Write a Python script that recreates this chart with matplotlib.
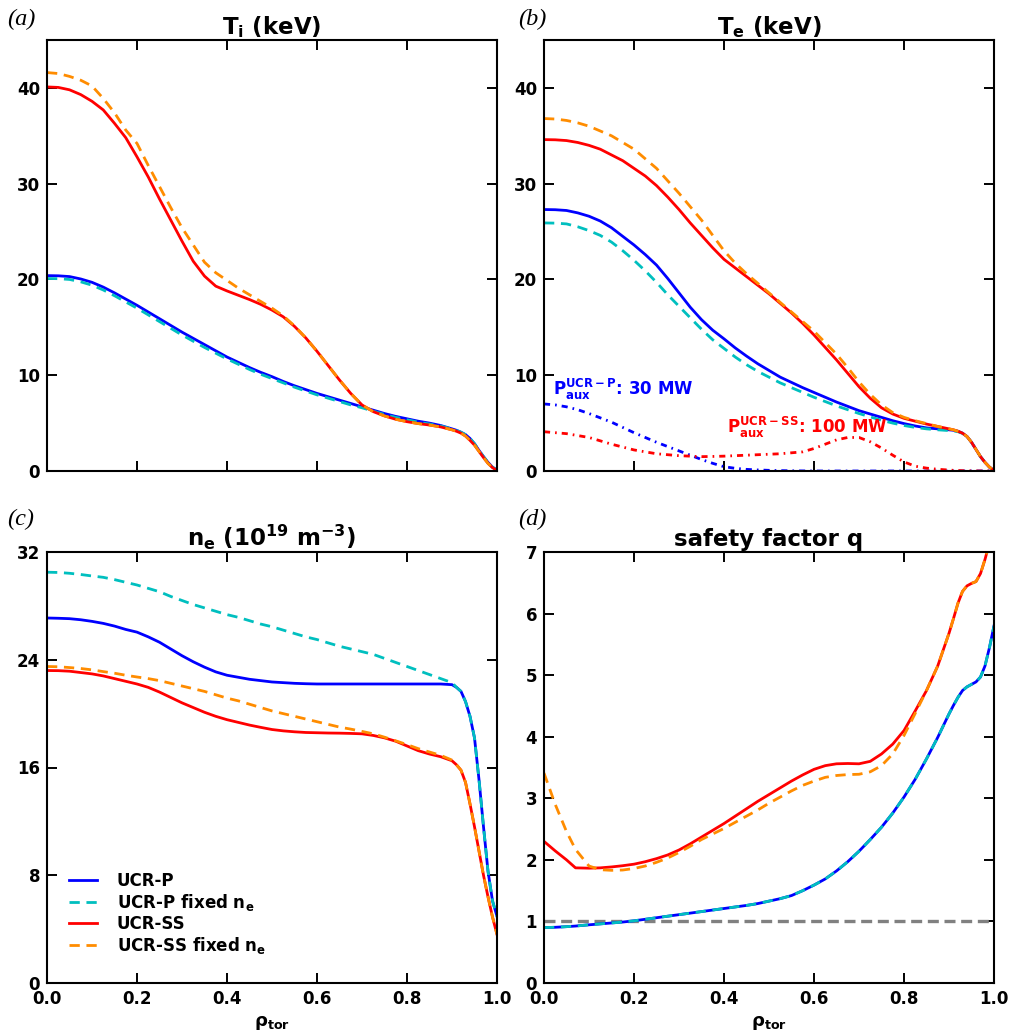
import numpy as np
import matplotlib
matplotlib.use("Agg")
import matplotlib.pyplot as plt

# ---------------- data ----------------
rho = [0, .025, .05, .075, .1, .125, .15, .175, .2, .225, .25, .275, .3, .325, .35, .375,
       .4, .425, .45, .475, .5, .525, .55, .575, .6, .625, .65, .675, .7, .725, .75, .775,
       .8, .825, .85, .875, .9, .91, .92, .93, .94, .95, .96, .97, .98, .99, 1.0]

Ti_P = [20.4, 20.38, 20.3, 20.05, 19.7, 19.2, 18.6, 17.95, 17.3, 16.6, 15.9, 15.2, 14.5, 13.85,
        13.2, 12.55, 11.9, 11.35, 10.8, 10.3, 9.85, 9.35, 8.9, 8.5, 8.1, 7.75, 7.4, 7.05, 6.7,
        6.35, 6.0, 5.7, 5.45, 5.2, 5.0, 4.75, 4.4, 4.25, 4.05, 3.8, 3.4, 2.85, 2.15, 1.5, 0.9,
        0.4, 0.1]
Ti_Pf = [20.1, 20.08, 20.0, 19.75, 19.4, 18.9, 18.3, 17.65, 17.0, 16.3, 15.6, 14.9, 14.2, 13.55,
         12.9, 12.3, 11.7, 11.15, 10.6, 10.1, 9.65, 9.2, 8.75, 8.35, 7.95, 7.6, 7.25, 6.9, 6.6,
         6.25, 5.9, 5.6, 5.35, 5.1, 4.9, 4.7, 4.38, 4.23, 4.05, 3.8, 3.4, 2.85, 2.15, 1.5, 0.9,
         0.4, 0.1]
Ti_SS = [40.1, 40.05, 39.8, 39.3, 38.6, 37.7, 36.3, 34.8, 32.8, 30.7, 28.4, 26.2, 24.0, 21.9,
         20.35, 19.3, 18.8, 18.35, 17.9, 17.4, 16.8, 16.1, 15.1, 13.9, 12.5, 11.0, 9.5, 8.1, 6.9,
         6.2, 5.75, 5.4, 5.15, 4.95, 4.8, 4.6, 4.3, 4.15, 3.95, 3.65, 3.2, 2.7, 2.05, 1.4, 0.8,
         0.35, 0.05]
Ti_SSf = [41.6, 41.5, 41.2, 40.8, 40.2, 38.9, 37.4, 35.6, 34.2, 31.9, 29.7, 27.5, 25.4, 23.6,
          21.8, 20.7, 19.9, 19.1, 18.4, 17.7, 17.0, 16.2, 15.15, 13.9, 12.5, 11.0, 9.5, 8.1, 6.9,
          6.2, 5.75, 5.4, 5.15, 4.95, 4.8, 4.6, 4.3, 4.15, 3.95, 3.65, 3.2, 2.7, 2.05, 1.4, 0.8,
          0.35, 0.05]

Te_P = [27.3, 27.28, 27.2, 26.95, 26.6, 26.1, 25.4, 24.5, 23.6, 22.6, 21.5, 20.1, 18.6, 17.1,
        15.8, 14.7, 13.8, 12.85, 12.0, 11.2, 10.5, 9.8, 9.25, 8.7, 8.2, 7.7, 7.2, 6.75, 6.3,
        5.95, 5.6, 5.25, 4.95, 4.7, 4.5, 4.4, 4.3, 4.25, 4.15, 3.95, 3.6, 3.0, 2.25, 1.5, 0.9,
        0.4, 0.05]
Te_Pf = [25.9, 25.88, 25.8, 25.5, 25.1, 24.6, 23.9, 23.0, 22.0, 20.9, 19.7, 18.4, 17.2, 16.0,
         14.8, 13.7, 12.8, 11.9, 11.1, 10.4, 9.8, 9.2, 8.7, 8.2, 7.7, 7.25, 6.8, 6.4, 6.0, 5.65,
         5.3, 5.0, 4.75, 4.55, 4.4, 4.3, 4.22, 4.18, 4.1, 3.93, 3.6, 3.0, 2.25, 1.5, 0.9, 0.4,
         0.05]
Te_SS = [34.6, 34.58, 34.5, 34.3, 34.0, 33.6, 33.0, 32.4, 31.6, 30.8, 29.8, 28.6, 27.3, 25.9,
         24.6, 23.3, 22.1, 21.2, 20.3, 19.4, 18.5, 17.5, 16.5, 15.4, 14.2, 12.9, 11.6, 10.2, 8.8,
         7.6, 6.6, 5.95, 5.5, 5.2, 4.9, 4.65, 4.4, 4.3, 4.15, 3.95, 3.6, 3.0, 2.25, 1.5, 0.9,
         0.4, 0.05]
Te_SSf = [36.8, 36.75, 36.6, 36.35, 36.0, 35.5, 35.0, 34.3, 33.6, 32.6, 31.6, 30.3, 29.0, 27.6,
          26.2, 24.6, 23.0, 21.7, 20.6, 19.6, 18.6, 17.6, 16.6, 15.6, 14.6, 13.4, 12.2, 10.8,
          9.3, 8.0, 6.9, 6.1, 5.6, 5.25, 4.95, 4.65, 4.4, 4.3, 4.15, 3.95, 3.6, 3.0, 2.25, 1.5,
          0.9, 0.4, 0.05]
Paux_P = [7.0, 6.9, 6.7, 6.4, 6.0, 5.55, 5.1, 4.55, 4.0, 3.5, 3.0, 2.55, 2.1, 1.65, 1.2, 0.8,
          0.45, 0.28, 0.17, 0.11, 0.07, 0.04, 0.02, 0.01, 0, 0, 0, 0, 0, 0, 0, 0,
          0, 0, 0, 0, 0, 0, 0, 0, 0, 0, 0, 0, 0, 0, 0]
Paux_SS = [4.1, 4.0, 3.9, 3.7, 3.5, 3.15, 2.8, 2.5, 2.2, 2.0, 1.8, 1.7, 1.6, 1.55, 1.5, 1.52,
           1.55, 1.6, 1.65, 1.7, 1.75, 1.8, 1.9, 2.0, 2.35, 2.8, 3.25, 3.5, 3.5, 3.05, 2.4, 1.65,
           0.95, 0.5, 0.3, 0.18, 0.1, 0.07, 0.05, 0.03, 0.02, 0.01, 0, 0, 0, 0, 0]

ne_P = [27.1, 27.08, 27.05, 26.97, 26.85, 26.7, 26.5, 26.25, 26.05, 25.7, 25.3, 24.8, 24.3,
        23.85, 23.45, 23.1, 22.85, 22.7, 22.55, 22.45, 22.35, 22.3, 22.25, 22.22, 22.2, 22.2,
        22.2, 22.2, 22.2, 22.2, 22.2, 22.2, 22.2, 22.2, 22.2, 22.2, 22.15, 21.95, 21.65, 20.9,
        19.8, 18.2, 15.1, 11.6, 8.3, 6.1, 4.95]
ne_Pf = [30.5, 30.48, 30.42, 30.33, 30.22, 30.12, 29.95, 29.75, 29.55, 29.3, 29.05, 28.7, 28.4,
         28.1, 27.85, 27.6, 27.35, 27.15, 26.9, 26.65, 26.45, 26.2, 25.95, 25.7, 25.5, 25.25,
         25.0, 24.8, 24.6, 24.4, 24.1, 23.8, 23.5, 23.2, 22.9, 22.6, 22.3, 21.95, 21.65, 20.9,
         19.8, 18.2, 15.1, 11.6, 8.3, 6.1, 4.95]
ne_SS = [23.2, 23.19, 23.15, 23.05, 22.95, 22.8, 22.6, 22.4, 22.2, 21.95, 21.6, 21.2, 20.8,
         20.45, 20.1, 19.8, 19.55, 19.35, 19.15, 18.98, 18.82, 18.72, 18.65, 18.6, 18.58, 18.56,
         18.55, 18.53, 18.5, 18.38, 18.2, 17.95, 17.6, 17.25, 17.0, 16.8, 16.5, 16.2, 15.8, 14.9,
         13.3, 11.6, 9.8, 8.0, 6.4, 4.9, 3.6]
ne_SSf = [23.5, 23.48, 23.42, 23.35, 23.25, 23.12, 23.0, 22.85, 22.72, 22.6, 22.45, 22.25, 22.05,
          21.85, 21.65, 21.4, 21.15, 20.95, 20.7, 20.45, 20.2, 20.0, 19.8, 19.6, 19.4, 19.2, 19.0,
          18.85, 18.68, 18.5, 18.25, 17.98, 17.7, 17.4, 17.15, 16.9, 16.55, 16.2, 15.8, 14.9,
          13.3, 11.6, 9.8, 8.0, 6.4, 4.9, 3.6]

rho_q = [0, .025, .05, .07, .1, .125, .15, .175, .2, .225, .25, .275, .3, .325, .35, .375,
         .4, .425, .45, .475, .5, .525, .55, .575, .6, .625, .65, .675, .7, .725, .75, .775,
         .8, .825, .85, .875, .9, .91, .92, .93, .94, .95, .96, .97, .98, .99, 1.0]
q_P = [0.90, 0.905, 0.915, 0.925, 0.945, 0.96, 0.975, 0.99, 1.01, 1.035, 1.06, 1.085, 1.11,
       1.135, 1.16, 1.185, 1.21, 1.235, 1.26, 1.29, 1.33, 1.37, 1.42, 1.5, 1.59, 1.69, 1.82,
       1.97, 2.14, 2.33, 2.53, 2.76, 3.02, 3.31, 3.64, 3.99, 4.37, 4.51, 4.64, 4.75, 4.81, 4.85,
       4.89, 4.97, 5.15, 5.45, 5.8]
q_Pf = list(q_P)
q_SS = [2.30, 2.145, 2.0, 1.87, 1.865, 1.87, 1.885, 1.905, 1.93, 1.97, 2.02, 2.08, 2.16, 2.26,
        2.37, 2.48, 2.59, 2.71, 2.83, 2.95, 3.06, 3.17, 3.28, 3.38, 3.47, 3.53, 3.56, 3.565,
        3.56, 3.6, 3.72, 3.88, 4.1, 4.42, 4.75, 5.15, 5.68, 5.92, 6.17, 6.36, 6.45, 6.49, 6.52,
        6.65, 6.88, 7.15, 7.6]
q_SSf = [3.41, 2.9, 2.46, 2.17, 1.90, 1.84, 1.83, 1.835, 1.86, 1.90, 1.96, 2.03, 2.12, 2.22,
         2.33, 2.42, 2.51, 2.61, 2.71, 2.81, 2.92, 3.02, 3.12, 3.21, 3.28, 3.34, 3.37, 3.385,
         3.39, 3.43, 3.53, 3.72, 4.02, 4.38, 4.75, 5.15, 5.68, 5.92, 6.17, 6.36, 6.45, 6.49,
         6.52, 6.65, 6.88, 7.15, 7.6]
q_ref = 1.0

labels = ["UCR-P", "UCR-P fixed n$_e$", "UCR-SS", "UCR-SS fixed n$_e$"]
titles = ["T$_i$ (keV)", "T$_e$ (keV)", "n$_e$ (10$^{19}$ m$^{-3}$)", "safety factor q"]
panel_tags = ["(a)", "(b)", "(c)", "(d)"]
xticks = [0.0, 0.2, 0.4, 0.6, 0.8, 1.0]
ylims = [(0, 45), (0, 45), (0, 32), (0, 7)]
yticks = [[0, 10, 20, 30, 40], [0, 10, 20, 30, 40], [0, 8, 16, 24, 32], [0, 1, 2, 3, 4, 5, 6, 7]]

# ---------------- style ----------------
plt.rcParams['font.family'] = ['DejaVu Sans']
plt.rcParams['font.weight'] = 'bold'
plt.rcParams['mathtext.default'] = 'bf'
plt.rcParams['axes.linewidth'] = 1.5

fig = plt.figure(figsize=(10.12, 10.33), dpi=100)
L1, R1 = 47 / 1012, 497 / 1012
L2, R2 = 544 / 1012, 994 / 1012
T1, B1 = 1 - 40 / 1033, 1 - 471 / 1033
T2, B2 = 1 - 552 / 1033, 1 - 983 / 1033
axa = fig.add_axes([L1, B1, R1 - L1, T1 - B1])
axb = fig.add_axes([L2, B1, R2 - L2, T1 - B1])
axc = fig.add_axes([L1, B2, R1 - L1, T2 - B2])
axd = fig.add_axes([L2, B2, R2 - L2, T2 - B2])
axes = [axa, axb, axc, axd]

C_P, C_Pf, C_SS, C_SSf = 'blue', (0, 0.75, 0.75), 'red', 'darkorange'
lw = 2.0


def four(ax, x, a, b, c, d):
    ax.plot(x, a, color=C_P, lw=lw, ls='-', label=labels[0])
    ax.plot(x, b, color=C_Pf, lw=lw, ls=(0, (3.7, 2.4)), label=labels[1])
    ax.plot(x, c, color=C_SS, lw=lw, ls='-', label=labels[2])
    ax.plot(x, d, color=C_SSf, lw=lw, ls=(0, (3.7, 2.4)), label=labels[3])


four(axa, rho, Ti_P, Ti_Pf, Ti_SS, Ti_SSf)
four(axb, rho, Te_P, Te_Pf, Te_SS, Te_SSf)
axb.plot(rho, Paux_P, color=C_P, lw=lw, ls=(0, (2.2, 1.8, 0.6, 1.8)))
axb.plot(rho, Paux_SS, color=C_SS, lw=lw, ls=(0, (2.2, 1.8, 0.6, 1.8)))
four(axc, rho, ne_P, ne_Pf, ne_SS, ne_SSf)
axd.axhline(q_ref, color='gray', lw=2.4, ls=(0, (3.3, 1.7)))
four(axd, rho_q, q_P, q_Pf, q_SS, q_SSf)

axb.text(0.02, 7.9, r"P$_{aux}^{UCR-P}$: 30 MW", color='blue', fontsize=12,
         fontweight='bold', va='baseline', ha='left')
axb.text(0.407, 4.0, r"P$_{aux}^{UCR-SS}$: 100 MW", color='red', fontsize=12,
         fontweight='bold', va='baseline', ha='left')

for i, ax in enumerate(axes):
    ax.set_xlim(0, 1)
    ax.set_ylim(*ylims[i])
    ax.set_yticks(yticks[i])
    ax.set_xticks(xticks)
    ax.tick_params(direction='in', top=True, right=True, length=7, width=1.4,
                   labelsize=12, pad=5)
    for lab in ax.get_xticklabels() + ax.get_yticklabels():
        lab.set_fontweight('bold')
    ax.set_title(titles[i], fontsize=16.5, fontweight='bold', pad=4)
    if i < 2:
        ax.set_xticklabels([])
    else:
        ax.set_xticklabels(["%.1f" % t for t in xticks])
        ax.set_xlabel(r"$\rho_{tor}$", fontsize=13, labelpad=4)

axc.legend(loc='upper left', bbox_to_anchor=(0.049, 0.258), frameon=False, fontsize=12,
           handlelength=1.65, handletextpad=1.2, labelspacing=0.12,
           borderaxespad=0.0, borderpad=0.0)

tag_pos = [(7, 25), (518, 25), (7, 525), (518, 525)]
for (px, py), tag in zip(tag_pos, panel_tags):
    fig.text(px / 1012, 1 - py / 1033, tag, fontsize=17.5, family='Liberation Serif',
             style='italic', fontweight='normal', ha='left', va='baseline')

fig.savefig("out.png", dpi=100)
